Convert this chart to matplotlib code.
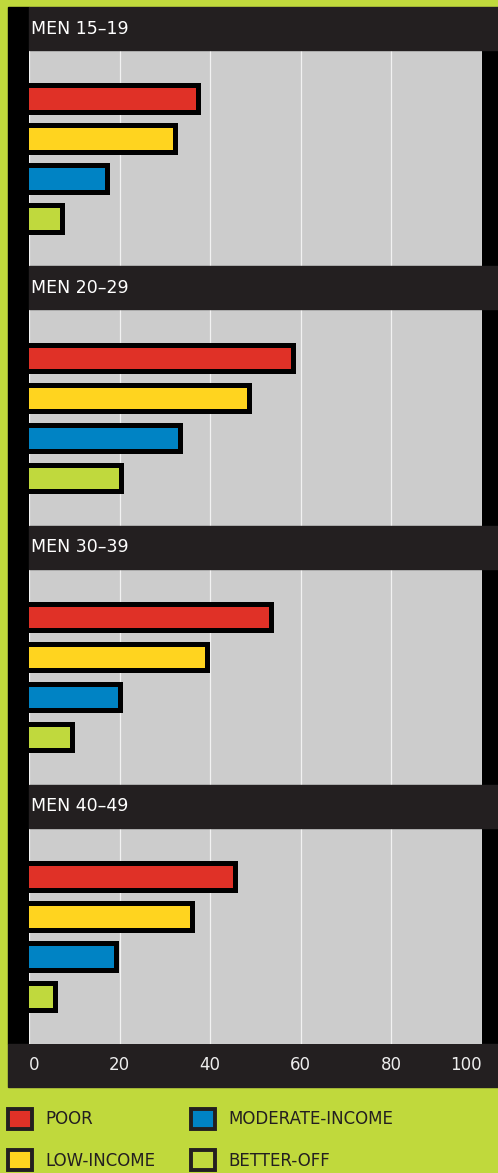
import numpy as np
import matplotlib
matplotlib.use("Agg")
import matplotlib.pyplot as plt
from matplotlib.patches import Rectangle, Patch
from matplotlib.transforms import blended_transform_factory

# data (percent)
groups = ["MEN 15\u201319", "MEN 20\u201329", "MEN 30\u201339", "MEN 40\u201349"]
categories = ["POOR", "LOW-INCOME", "MODERATE-INCOME", "BETTER-OFF"]
poor = [37.4, 58.3, 53.4, 45.4]
low_income = [32.3, 48.5, 39.2, 35.9]
moderate_income = [17.3, 33.4, 20.1, 19.1]
better_off = [7.3, 20.4, 9.4, 5.7]
xticks = [0, 20, 40, 60, 80, 100]

colors = ["#E03127", "#FFD41F", "#0083C4", "#C0D93D"]
LIME = "#C0D93C"
DARK = "#231F20"
GRAY = "#CCCCCC"

W, H = 498, 1173
fig = plt.figure(figsize=(W / 100, H / 100), dpi=100, facecolor=LIME)

# frame pieces around the plot area (pixel layout of the original)
fig.patches.append(Rectangle((8 / W, 1 - 1044 / H), 21 / W, 1037 / H,
                             transform=fig.transFigure, color="black", zorder=-1))
fig.patches.append(Rectangle((482 / W, 1 - 1044 / H), 16 / W, 994 / H,
                             transform=fig.transFigure, color="black", zorder=-1))
fig.patches.append(Rectangle((8 / W, 1 - 1087 / H), 490 / W, 43 / H,
                             transform=fig.transFigure, color=DARK, zorder=-1))

ax = fig.add_axes([29 / W, 1 - 1044 / H, 453 / W, 1037 / H])
ax.set_facecolor(GRAY)

# vertical layout in "bar slot" units
GROUP_STEP = 6.48
HEADER_H = 1.075
FIRST_BAR = 2.29
series = [poor, low_income, moderate_income, better_off]

bt = blended_transform_factory(ax.transAxes, ax.transData)
for g, name in enumerate(groups):
    base = g * GROUP_STEP
    ax.add_patch(Rectangle((0, base), 469 / 453, HEADER_H, transform=bt,
                           color=DARK, clip_on=False, zorder=3))
    ax.text(0.004, base + HEADER_H / 2, name, transform=bt, color="white",
            fontsize=12.5, va="center", ha="left", zorder=4)
    for j, vals in enumerate(series):
        # start a bit left of zero so the left outline is hidden by the axes clip
        ax.barh(base + FIRST_BAR + j, vals[g] + 1.5, left=-1.5, height=0.66,
                color=colors[j], edgecolor="black", linewidth=3.6, zorder=2)

ax.set_xlim(0, 100)
ax.set_ylim(4 * GROUP_STEP, 0)
ax.set_yticks([])
ax.set_xticks(xticks)
ax.set_xticklabels([str(t) for t in xticks])
ax.tick_params(axis="x", length=0, pad=9, labelsize=12, labelcolor="#EDEDED")
labels = ax.get_xticklabels()
labels[0].set_ha("left")
labels[-1].set_ha("right")
ax.grid(axis="x", color="#F2F2F2", linewidth=0.9)
ax.set_axisbelow(True)
for s in ax.spines.values():
    s.set_visible(False)

# legend
handles = [Patch(facecolor=c, edgecolor=DARK, linewidth=2.8) for c in colors]
fig.legend(handles, categories, loc="upper left", ncol=2,
           bbox_to_anchor=(8 / W, 1 - 1109 / H), frameon=False,
           fontsize=12, labelcolor=DARK, handlelength=1.45, handleheight=1.45,
           handletextpad=0.8, columnspacing=2.15, labelspacing=1.3,
           borderpad=0, borderaxespad=0)

fig.savefig("out.png", dpi=100, facecolor=LIME)
